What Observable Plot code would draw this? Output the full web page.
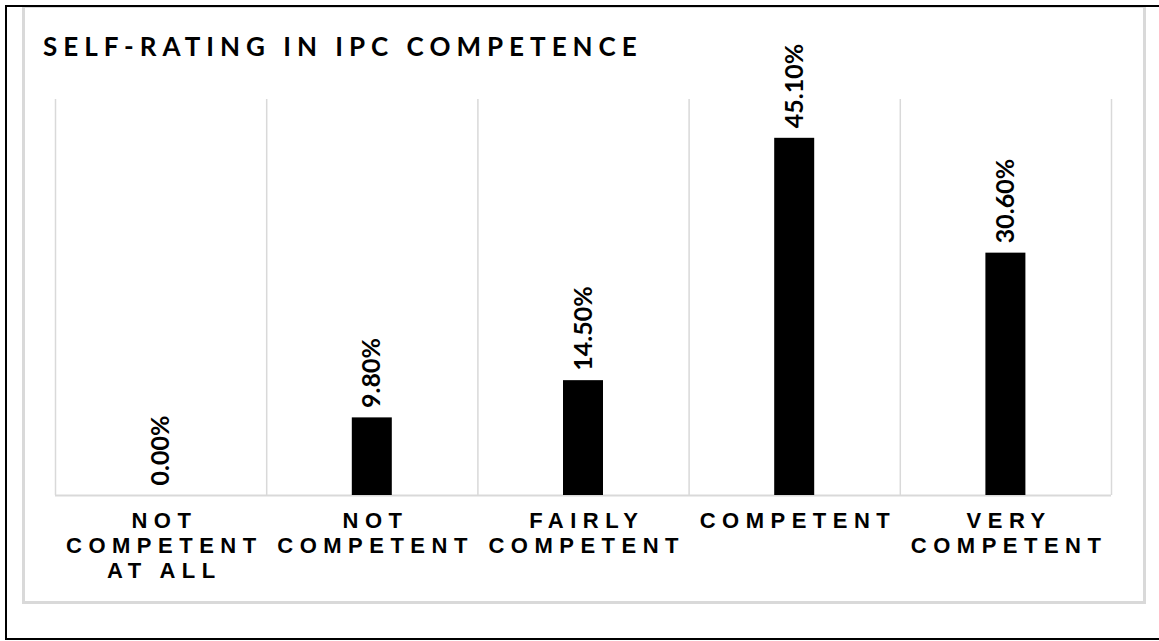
<!DOCTYPE html>
<html>
<head>
<meta charset="utf-8">
<script src="https://cdn.jsdelivr.net/npm/d3@7"></script>
<script src="https://cdn.jsdelivr.net/npm/@observablehq/plot@0.6"></script>
<style>
  html, body { margin: 0; padding: 0; background: #fff; }
  #wrap { position: relative; width: 1159px; height: 641px; overflow: hidden; background: #fff; }
  #outer { position: absolute; left: 5px; top: 5px; width: 1170px; height: 631px; border: 2px solid #000; box-sizing: content-box; z-index: 3; pointer-events: none; }
  #inner { position: absolute; left: 22px; top: 5px; width: 1118px; height: 593px; border: 3px solid #d9d9d9; z-index: 1; }
  #title { position: absolute; left: 43px; top: 31px; font-family: Lato, "Open Sans", sans-serif; font-weight: 700; font-size: 26px; line-height: 1.2; letter-spacing: 6px; color: #000; white-space: nowrap; z-index: 2; }
  #chart { position: absolute; left: 0; top: 0; z-index: 2; }
</style>
</head>
<body>
<div id="wrap">
  <div id="inner"></div>
  <div id="title"></div>
  <div id="chart"></div>
  <div id="outer"></div>
</div>
<script>
const title = "SELF-RATING IN IPC COMPETENCE";
const categories = ["NOT\nCOMPETENT\nAT ALL", "NOT\nCOMPETENT", "FAIRLY\nCOMPETENT", "COMPETENT", "VERY\nCOMPETENT"];
const values = [0.0, 9.8, 14.5, 45.1, 30.6];
const yMax = 50;

document.getElementById("title").textContent = title;

const rows = categories.map((c, i) => ({cat: c, value: values[i], i}));
const fmt = d3.format(".2f");
const labelSpacing = 6.5;

const plot = Plot.plot({
  width: 1159,
  height: 641,
  marginLeft: 55,
  marginRight: 48,
  marginTop: 99,
  marginBottom: 146,
  style: {background: "transparent", overflow: "visible"},
  x: {domain: [0, categories.length], axis: null},
  y: {domain: [0, yMax], axis: null},
  marks: [
    Plot.ruleX(d3.range(categories.length + 1), {x: d => d, y1: 0, y2: yMax, stroke: "#d9d9d9", strokeWidth: 1.5}),
    Plot.ruleY([0], {stroke: "#d9d9d9", strokeWidth: 2}),
    Plot.rectY(rows, {x1: d => d.i, x2: d => d.i + 1, y1: 0, y2: "value", insetLeft: 85.6, insetRight: 85.6, fill: "#000"}),
    Plot.text(rows, {x: d => d.i + 0.5, y: "value", text: d => fmt(d.value) + "%", rotate: -90, textAnchor: "start", lineAnchor: "middle", dy: -10, fontFamily: "Lato, 'Open Sans', sans-serif", fontWeight: 700, fontSize: 25, fill: "#000"}),
    Plot.text(rows, {x: d => d.i + 0.5, y: 0, text: "cat", lineAnchor: "top", dy: 15, dx: labelSpacing / 2, lineHeight: 1.14, fontFamily: "'Liberation Sans', Arial, sans-serif", fontWeight: 700, fontSize: 22, fill: "#000"})
  ]
});

const groups = plot.querySelectorAll('g[aria-label="text"]');
const tickGroup = groups[groups.length - 1];
tickGroup.setAttribute("letter-spacing", labelSpacing);
tickGroup.style.letterSpacing = labelSpacing + "px";

document.getElementById("chart").appendChild(plot);
</script>
</body>
</html>
